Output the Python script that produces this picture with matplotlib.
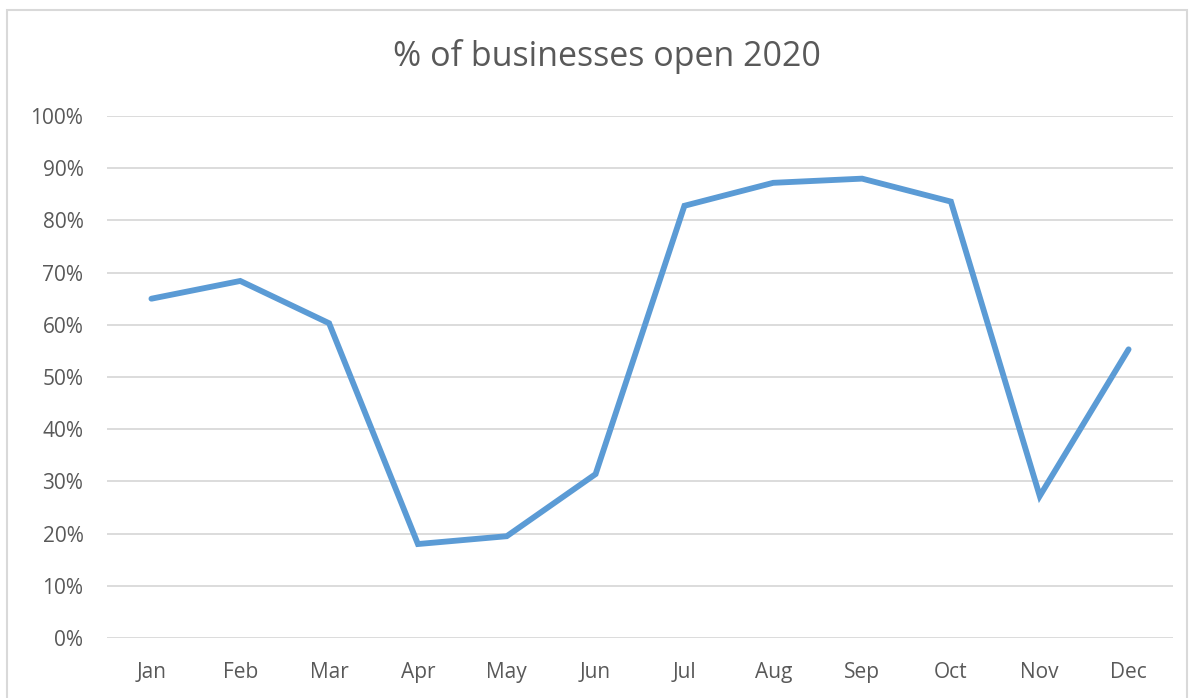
import matplotlib
matplotlib.use("Agg")
import matplotlib.pyplot as plt
from matplotlib.patches import Rectangle
from matplotlib.ticker import PercentFormatter

months = ["Jan", "Feb", "Mar", "Apr", "May", "Jun",
          "Jul", "Aug", "Sep", "Oct", "Nov", "Dec"]
pct_open = [65.0, 68.4, 60.3, 18.0, 19.5, 31.4,
            82.8, 87.2, 88.0, 83.6, 27.2, 55.3]

plt.rcParams['font.family'] = ['Open Sans', 'DejaVu Sans']

fig = plt.figure(figsize=(11.95, 6.98), dpi=100)
# light frame around the whole chart
fig.patches.append(Rectangle((7 / 1195, -0.1), 1180 / 1195, 1.1 - 10 / 698,
                             transform=fig.transFigure, fill=False,
                             edgecolor="#d9d9d9", linewidth=1.5))

ax = fig.add_axes([107 / 1195, 1 - 638 / 698, 1066 / 1195, 522 / 698])
x = range(len(months))
ax.plot(x, pct_open, color="#5b9bd5", linewidth=4.2,
        solid_joinstyle="miter", solid_capstyle="round", zorder=3)

ax.set_xlim(-0.5, len(months) - 0.5)
ax.set_ylim(0, 100)
ax.set_yticks(range(0, 101, 10))
ax.yaxis.set_major_formatter(PercentFormatter(decimals=0))
ax.set_xticks(list(x))
ax.set_xticklabels(months)
ax.grid(axis="y", color="#d9d9d9", linewidth=1.3)
ax.set_axisbelow(True)
for s in ax.spines.values():
    s.set_visible(False)
ax.tick_params(length=0, labelsize=15, colors="#595959")
ax.tick_params(axis="x", pad=17)
ax.tick_params(axis="y", pad=17)

fig.text(607 / 1195, 1 - 57 / 698, "% of businesses open 2020",
         ha="center", va="center", fontsize=24.5, color="#595959")

fig.savefig("out.png", dpi=100)
